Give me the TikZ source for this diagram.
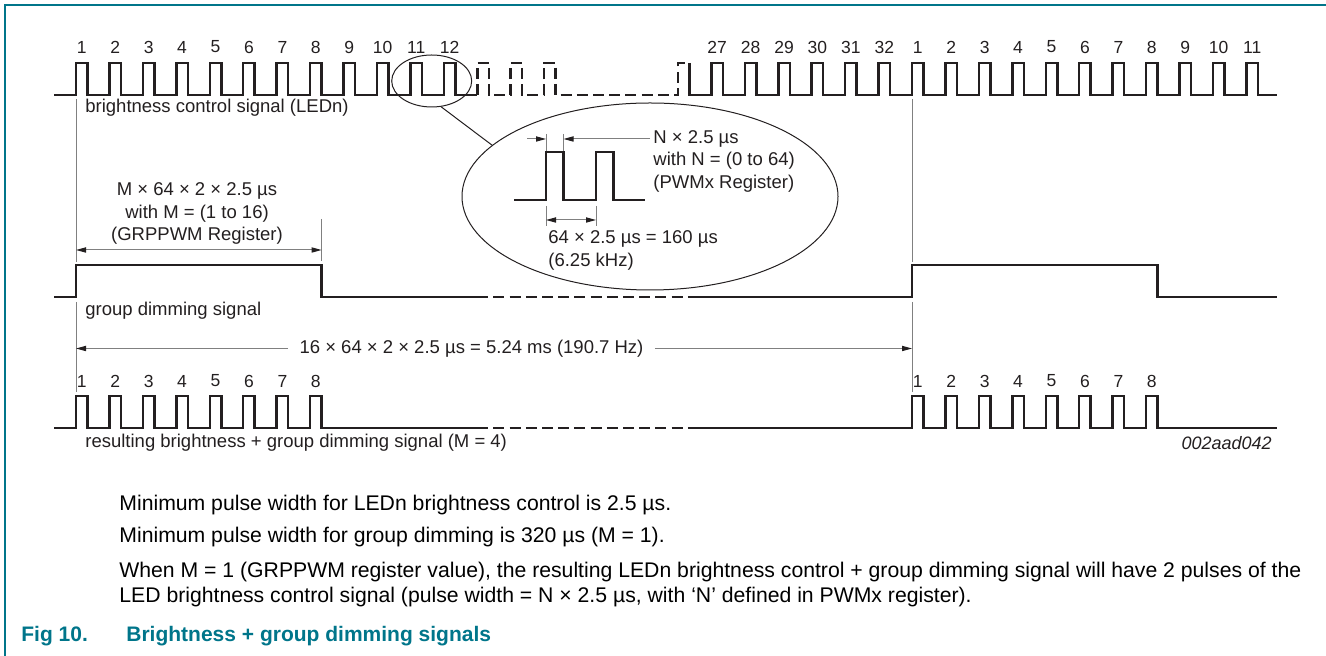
\documentclass[tikz,border=0pt]{standalone}
\usepackage{fontspec}
\setmainfont{Liberation Sans}
\usetikzlibrary{shapes.geometric,arrows.meta}
\definecolor{nxpteal}{RGB}{0,117,138}
\definecolor{inkgray}{RGB}{35,31,32}
\definecolor{dimgray}{RGB}{128,128,128}
\newcommand{\pulsepitch}{33.44}
\newcommand{\pulsehigh}{11.5}
\tikzset{
  wave/.style={draw=inkgray,line width=1.25pt},
  wavedash/.style={wave,dash pattern=on 5.5pt off 2.6pt},
  guide/.style={draw=dimgray,line width=0.5pt},
  thinline/.style={color=inkgray,line width=0.5pt},
  dimarrow/.style={color=dimgray,line width=0.5pt,-{Triangle[length=5pt,width=2.6pt,color=inkgray]}},
  dimboth/.style={color=dimgray,line width=0.5pt,{Triangle[length=5pt,width=2.6pt,color=inkgray]}-{Triangle[length=5pt,width=2.6pt,color=inkgray]}},
  lbl/.style={inner sep=0pt,text=inkgray,font=\fontsize{9.25}{11.25}\selectfont},
  num/.style={inner sep=0pt,text=inkgray,font=\fontsize{8.75}{10}\selectfont},
  note/.style={inner sep=0pt,anchor=west,text=black,font=\fontsize{10.6}{12.5}\selectfont},
}
\begin{document}
\begin{tikzpicture}[x=0.5pt,y=-0.5pt]
\useasboundingbox (0,0) rectangle (1326,656);
\draw[nxpteal,line width=1pt] (1326,5) -- (5,5) -- (5,656);

% brightness control signal
\draw[wave] (54,95) foreach \k in {0,...,11}{ -- ({76+\k*\pulsepitch},95) -- ++(0,-32) -- ++(\pulsehigh,0) -- ++(0,32)} -- ({76+12*\pulsepitch},95);
\draw[wavedash] ({76+12*\pulsepitch},95) foreach \k in {12,13,14}{ -- ({76+\k*\pulsepitch},95) -- ++(0,-32) -- ++(\pulsehigh,0) -- ++(0,32)} -- ({76+18*\pulsepitch},95) -- ++(0,-32) -- ++(\pulsehigh,0);
\draw[wave] ({76+18*\pulsepitch+\pulsehigh},63) -- ++(0,32) foreach \k in {19,...,35}{ -- ({76+\k*\pulsepitch},95) -- ++(0,-32) -- ++(\pulsehigh,0) -- ++(0,32)} -- (1277,95);
\foreach \k/\n in {0/1,1/2,2/3,3/4,4/5,5/6,6/7,7/8,8/9,9/10,10/11,11/12,19/27,20/28,21/29,22/30,23/31,24/32,25/1,26/2,27/3,28/4,29/5,30/6,31/7,32/8,33/9,34/10,35/11}
  \node(top\k) at ({76+\k*\pulsepitch+\pulsehigh/2},47)[num]{\n};
\node(ledn) at (85,107.5)[lbl,anchor=west]{brightness control signal (LEDn)};

% group dimming signal
\draw[wave] (54,297) -- (76,297) -- (76,265) -- ({76+7*\pulsepitch+\pulsehigh},265) -- ({76+7*\pulsepitch+\pulsehigh},297) -- ({76+12*\pulsepitch},297);
\draw[wavedash] ({76+12*\pulsepitch},297) -- ({76+18*\pulsepitch+\pulsehigh},297);
\draw[wave] ({76+18*\pulsepitch+\pulsehigh},297) -- (912,297) -- (912,265) -- ({912+7*\pulsepitch+\pulsehigh},265) -- ({912+7*\pulsepitch+\pulsehigh},297) -- (1277,297);
\node(grp) at (85,310.5)[lbl,anchor=west]{group dimming signal};

% resulting signal
\draw[wave] (54,428) foreach \k in {0,...,7}{ -- ({76+\k*\pulsepitch},428) -- ++(0,-32) -- ++(\pulsehigh,0) -- ++(0,32)} -- ({76+12*\pulsepitch},428);
\draw[wavedash] ({76+12*\pulsepitch},428) -- ({76+18*\pulsepitch+\pulsehigh},428);
\draw[wave] ({76+18*\pulsepitch+\pulsehigh},428) foreach \k in {25,...,32}{ -- ({76+\k*\pulsepitch},428) -- ++(0,-32) -- ++(\pulsehigh,0) -- ++(0,32)} -- (1277,428);
\foreach \k/\n in {0/1,1/2,2/3,3/4,4/5,5/6,6/7,7/8,25/1,26/2,27/3,28/4,29/5,30/6,31/7,32/8}
  \node(bot\k) at ({76+\k*\pulsepitch+\pulsehigh/2},381)[num]{\n};
\node(res) at (85,442.5)[lbl,anchor=west]{resulting brightness + group dimming signal (M = 4)};
\node(figid) at (1272,443)[lbl,anchor=east,font=\itshape\fontsize{9}{10}\selectfont]{002aad042};

% guide lines
\draw[guide] (76,99) -- (76,262) (76,302) -- (76,392);
\draw[guide] (912,99) -- (912,262) (912,302) -- (912,392);
\draw[guide] ({76+7*\pulsepitch+\pulsehigh},219) -- ({76+7*\pulsepitch+\pulsehigh},261);

% group period
\node(mtext) at (197,213.5)[lbl,align=center]{M × 64 × 2 × 2.5 µs\\with M = (1 to 16)\\(GRPPWM Register)};
\coordinate(mleft) at (76,250);
\coordinate(mright) at ({76+7*\pulsepitch+\pulsehigh},250);
\path [dimboth] (mleft) edge (mright);

\node(spanall) at (471.5,348.5)[lbl,inner xsep=5.5pt]{16 × 64 × 2 × 2.5 µs = 5.24 ms (190.7 Hz)};
\coordinate(spanleft) at (76,348.5);
\coordinate(spanright) at (912,348.5);
\path [dimarrow]
  (spanall.west)  edge  (spanleft)
  (spanall.east)  edge  (spanright);

% zoom on pulses 11 and 12
\node(zoomsmall) at (431.7,81)[thinline,draw,ellipse,inner sep=0pt,minimum width=40pt,minimum height=26pt]{};
\node(zoombig) at (650,196.5)[thinline,draw,ellipse,inner sep=0pt,minimum width=188pt,minimum height=93.5pt]{};
\path [thinline] (zoomsmall.-70) edge (zoombig.162);

\draw[wave] (514,200) -- (546,200) -- (546,152) -- (563.5,152) -- (563.5,200) -- (596,200) -- (596,152) -- (613.5,152) -- (613.5,200) -- (645,200);
\draw[guide] (546,134) -- (546,151) (563.5,134) -- (563.5,151);
\draw[guide] (546,206) -- (546,226) (596,206) -- (596,226);

\node(ntext) at (653,161)[lbl,anchor=west,align=left]{N × 2.5 µs\\with N = (0 to 64)\\(PWMx Register)};
\coordinate(nstart) at (527,139);
\coordinate(nrise) at (546,139);
\coordinate(nlead) at (650,139);
\coordinate(nfall) at (563.5,139);
\path [dimarrow]
  (nstart)  edge  (nrise)
  (nlead)   edge  (nfall);

\node(ptext) at (548,250.5)[lbl,anchor=west,align=left]{64 × 2.5 µs = 160 µs\\(6.25 kHz)};
\coordinate(pstart) at (546,220);
\coordinate(pend) at (596,220);
\path [dimboth] (pstart) edge (pend);

% notes and caption
\node(noteone) at (119,505)[note]{Minimum pulse width for LEDn brightness control is 2.5 µs.};
\node(notetwo) at (119,537)[note]{Minimum pulse width for group dimming is 320 µs (M = 1).};
\node(notethree) at (119,584.5)[note,align=left]{When M = 1 (GRPPWM register value), the resulting LEDn brightness control + group dimming signal will have 2 pulses of the\\LED brightness control signal (pulse width = N × 2.5 µs, with ‘N’ defined in PWMx register).};
\node(figno) at (21,636)[note,text=nxpteal,font=\bfseries\fontsize{10.5}{12}\selectfont]{Fig 10.};
\node(figtitle) at (126,636)[note,text=nxpteal,font=\bfseries\fontsize{10.5}{12}\selectfont]{Brightness + group dimming signals};
\end{tikzpicture}
\end{document}
